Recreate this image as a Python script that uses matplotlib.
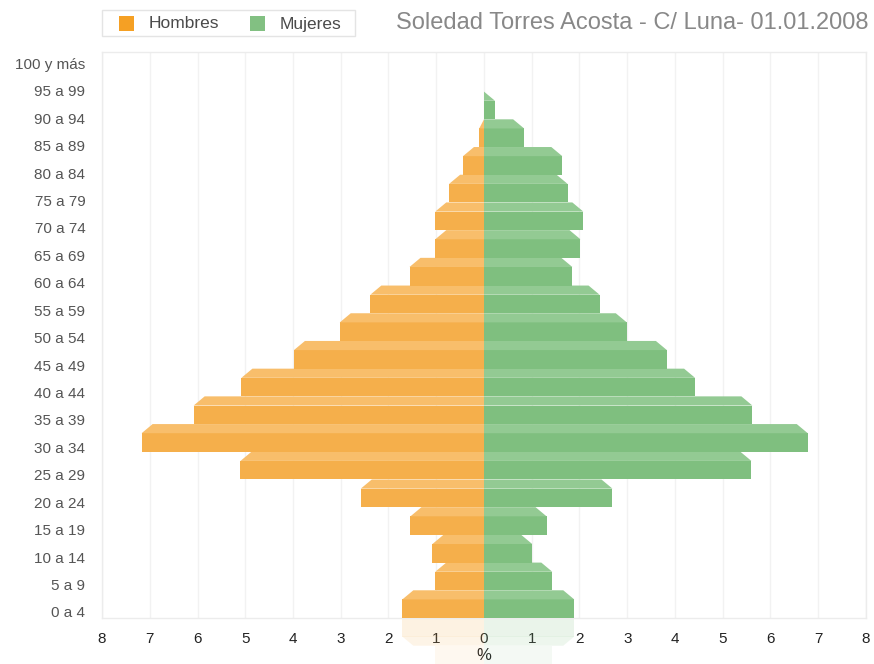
import numpy as np
import matplotlib
matplotlib.use("Agg")
import matplotlib.pyplot as plt
from matplotlib.patches import Polygon, Rectangle

plt.rcParams['font.family'] = ['Liberation Sans', 'DejaVu Sans']

# Datos (% de la población por grupo de edad)
grupos = ['0 a 4', '5 a 9', '10 a 14', '15 a 19', '20 a 24', '25 a 29', '30 a 34',
          '35 a 39', '40 a 44', '45 a 49', '50 a 54', '55 a 59', '60 a 64', '65 a 69',
          '70 a 74', '75 a 79', '80 a 84', '85 a 89', '90 a 94', '95 a 99', '100 y más']
hombres = [1.71, 1.02, 1.08, 1.54, 2.58, 5.10, 7.17, 6.08, 5.08, 3.98, 3.02,
           2.38, 1.56, 1.02, 1.02, 0.73, 0.44, 0.10, 0.0, 0.0, 0.0]
mujeres = [1.89, 1.43, 1.01, 1.31, 2.69, 5.60, 6.78, 5.62, 4.42, 3.83, 2.99,
           2.42, 1.85, 2.02, 2.08, 1.75, 1.64, 0.84, 0.23, 0.0, 0.0]
xticks = np.arange(-8, 9)
titulo = 'Soledad Torres Acosta - C/ Luna- 01.01.2008'

col_h_front, col_h_top, col_h_leg = '#F5AF4B', '#F8BE6B', '#F5A024'
col_m_front, col_m_top, col_m_leg = '#7FBF7F', '#93CA93', '#82C082'

W, H = 874, 664
fig = plt.figure(figsize=(W / 100, H / 100), dpi=100)
ax = fig.add_axes([102 / W, (H - 618) / H, 764 / W, 566 / H])

front_h = 0.67   # cara frontal
top_h = 0.33     # cara superior (efecto 3D)
slant = 0.23     # inclinacion de la cara superior


def draw_bar(i, v, sign, cf, ct, alpha=1.0, mirror=False):
    if v <= 0:
        return
    if not mirror:
        y0 = i - 0.5
        ax.barh(y0, sign * v, height=front_h, align='edge', color=cf,
                linewidth=0, alpha=alpha, zorder=3)
        yb, yt = y0 + front_h, y0 + front_h + top_h
    else:
        # reflejo bajo el eje
        base = -0.5 - i - front_h
        ax.add_patch(Rectangle((0, base), sign * v, front_h, color=cf, lw=0,
                               alpha=alpha, clip_on=False, zorder=1))
        yb, yt = base, base - top_h
    vt = max(v - slant, 0)
    pts = [(0, yb), (sign * v, yb), (sign * vt, yt), (0, yt)]
    ax.add_patch(Polygon(pts, closed=True, color=ct, lw=0, alpha=alpha,
                         clip_on=not mirror, zorder=1 if mirror else 3))


for i in range(len(grupos)):
    draw_bar(i, hombres[i], -1, col_h_front, col_h_top)
    draw_bar(i, mujeres[i], 1, col_m_front, col_m_top)

# reflejo desvanecido
for i, a in zip(range(3), [0.16, 0.08, 0.04]):
    draw_bar(i, hombres[i], -1, col_h_front, col_h_top, alpha=a, mirror=True)
    draw_bar(i, mujeres[i], 1, col_m_front, col_m_top, alpha=a, mirror=True)

ax.set_xlim(-8, 8)
ax.set_ylim(-0.5, 19.93)
ax.set_xticks(xticks)
ax.set_xticklabels([str(abs(t)) for t in xticks], fontsize=11, color='#222222')
ax.set_yticks(np.arange(len(grupos)) * 0.99 - 0.28)
ax.set_yticklabels(grupos, fontsize=11, color='#555555')
ax.tick_params(length=0)
ax.tick_params(axis='y', pad=12)
ax.tick_params(axis='x', pad=10)
ax.set_xlabel('%', fontsize=12, color='#222222', labelpad=1.5)
ax.grid(True, axis='x', color='#f2f2f2', linewidth=1, zorder=0)
ax.set_axisbelow(True)
for sp in ax.spines.values():
    sp.set_color('#ececec')
    sp.set_linewidth(1)


# leyenda
def px(x, y):
    return x / W, 1 - y / H


lx, ly = px(102, 36)
fig.add_artist(Rectangle((lx, ly), 253 / W, 26 / H, transform=fig.transFigure,
                         facecolor='white', edgecolor='#e4e4e4', lw=1))
for x0, c, txt in [(119, col_h_leg, 'Hombres'), (250, col_m_leg, 'Mujeres')]:
    sx, sy = px(x0, 31)
    fig.add_artist(Rectangle((sx, sy), 15 / W, 15 / H, transform=fig.transFigure,
                             facecolor=c, edgecolor='none'))
    tx, ty = px(x0 + 30, 24)
    fig.text(tx, ty, txt, fontsize=12.5, color='#4a4a4a', va='center', ha='left')

tx, ty = px(868, 23)
fig.text(tx, ty, titulo, fontsize=17, color='#888888', va='center', ha='right')

fig.savefig('out.png', dpi=100, facecolor='white')
